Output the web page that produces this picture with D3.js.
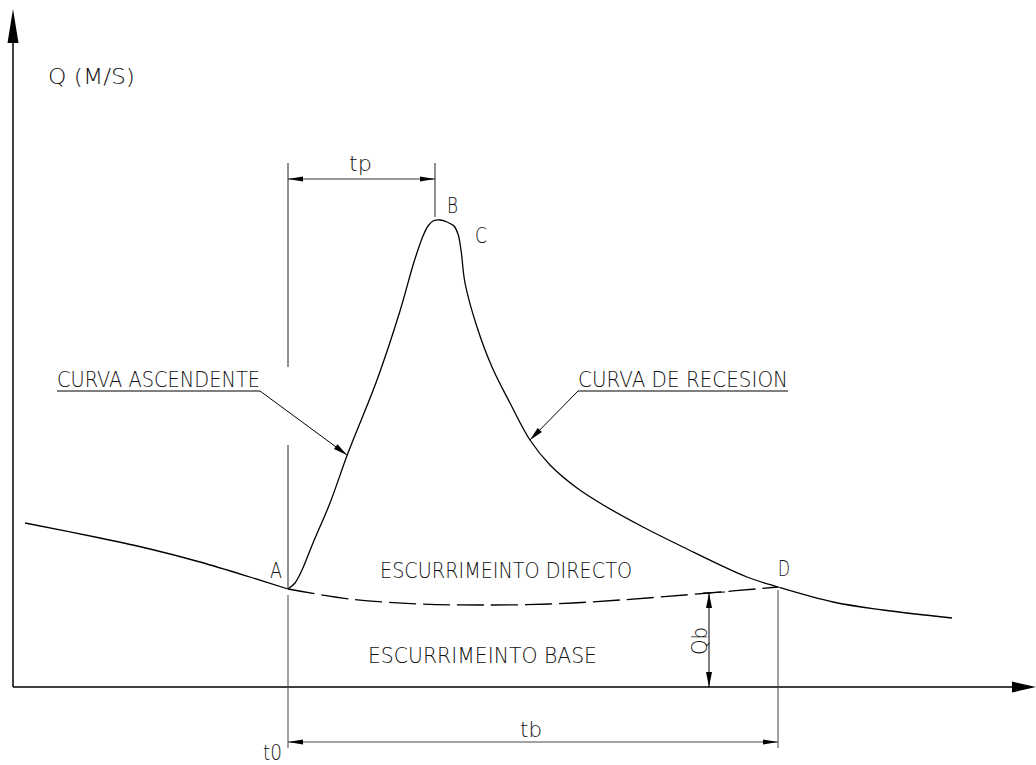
<!DOCTYPE html>
<html>
<head>
<meta charset="utf-8">
<script src="https://cdn.jsdelivr.net/npm/d3@7"></script>
<style>
  body { margin: 0; background: #fff; }
  svg { display: block; }
  text { font-family: "DejaVu Sans", sans-serif; font-weight: 200; fill: #111; font-size: 22px; }
</style>
</head>
<body>
<svg id="chart" width="1036" height="765"></svg>
<script>
// hydrograph: [t, q] in arbitrary units
var hydrograph = [
  [27.5, 9.8], [28.2, 10.4], [28.9, 11.7], [30.0, 14.4], [31.7, 18.4],
  [33.5, 23.4], [36.4, 30.7], [38.7, 37.6], [40.1, 42.5], [41.0, 45.1],
  [41.5, 46.1], [42.0, 46.6], [42.7, 46.7], [43.4, 46.5], [44.1, 46.1],
  [44.5, 45.3], [44.8, 43.7], [45.2, 40.4], [46.4, 36.0], [47.9, 32.0],
  [49.7, 28.4], [51.7, 24.7], [53.7, 22.2], [56.4, 19.9], [59.2, 18.1],
  [63.0, 16.0], [67.0, 14.0], [73.4, 11.0], [76.5, 10.0], [82.0, 8.5],
  [87.0, 7.7], [93.9, 6.9]
];
// flow before the storm
var priorFlow = [[1.2, 16.4], [8.7, 14.9], [13.7, 13.8], [18.7, 12.5], [23.7, 11.0], [27.5, 9.8]];
// separation line of base flow (dashed)
var baseFlow = [[27.5, 9.8], [33.7, 8.8], [40.7, 8.3], [46.7, 8.2], [53.7, 8.3], [60.7, 8.7], [69.6, 9.4], [76.5, 10.0]];

var pointA = [27.5, 9.8];
var pointD = [76.5, 10.0];
var peakT = 42.2;
var qbT = 69.6;
var qbTop = 9.4;

var svg = d3.select('#chart');
var x = d3.scaleLinear().domain([0, 100]).range([13, 1013]);
var y = d3.scaleLinear().domain([0, 60]).range([687, 87]);

var line = d3.line()
  .x(function(d) { return x(d[0]); })
  .y(function(d) { return y(d[1]); })
  .curve(d3.curveCatmullRom.alpha(0.5));

// filled arrow head, tip at (tx,ty), pointing along angle a
function arrow(tx, ty, a, len, hw, color) {
  var c = Math.cos(a), s = Math.sin(a);
  var bx = tx - c * len, by = ty - s * len;
  var pts = [[tx, ty], [bx - s * hw, by + c * hw], [bx + s * hw, by - c * hw]];
  svg.append('path')
    .attr('d', 'M' + pts.join('L') + 'Z')
    .attr('fill', color || '#000');
}

function seg(x1, y1, x2, y2, color, w) {
  svg.append('line')
    .attr('x1', x1).attr('y1', y1).attr('x2', x2).attr('y2', y2)
    .attr('stroke', color || '#000')
    .attr('stroke-width', w || 1);
}

function label(txt, tx, ty, len, extra) {
  var t = svg.append('text').attr('x', tx).attr('y', ty).text(txt);
  if (len) t.attr('textLength', len).attr('lengthAdjust', 'spacingAndGlyphs');
  if (extra) t.attr('transform', extra);
  return t;
}

// axes
var x0 = x(0), yb = y(0);
seg(x0, yb, x0, 40, '#000', 1.5);
arrow(x0, 9, -Math.PI / 2, 34, 5.5);
seg(x0, yb, 1014, yb, '#000', 1.5);
arrow(1036, yb, 0, 24, 5.5);

// curves
svg.append('path').datum(priorFlow).attr('d', line)
  .attr('fill', 'none').attr('stroke', '#000').attr('stroke-width', 1.3);
svg.append('path').datum(hydrograph).attr('d', line)
  .attr('fill', 'none').attr('stroke', '#000').attr('stroke-width', 1.3);
svg.append('path').datum(baseFlow).attr('d', line)
  .attr('fill', 'none').attr('stroke', '#000').attr('stroke-width', 1.3)
  .attr('stroke-dasharray', '27,7');

// extension lines at A and D
var xA = x(pointA[0]), xD = x(pointD[0]), xP = x(peakT);
seg(xA, 163, xA, 367, '#222');
seg(xA, 445, xA, y(pointA[1]) - 1, '#222');
seg(xA, y(pointA[1]) + 6, xA, 748, '#444');
seg(xD, y(pointD[1]) + 3, xD, 748, '#444');
seg(xP, 163, xP, 217, '#222');

// tp dimension
seg(xA, 179, xP, 179, '#333');
arrow(xA, 179, Math.PI, 15, 2.6);
arrow(xP, 179, 0, 15, 2.6);
label('tp', 349, 171, 23);

// tb dimension
seg(xA, 742, xD, 742, '#444');
arrow(xA, 742, Math.PI, 15, 2.6);
arrow(xD, 742, 0, 15, 2.6);
label('tb', 520, 737, 22);
label('t0', 263, 760, 19);

// Qb dimension
var xq = x(qbT);
seg(xq - 6, y(qbTop), xq + 16, y(qbTop) - 1, '#000');
seg(xq, y(qbTop), xq, yb, '#000');
arrow(xq, y(qbTop), -Math.PI / 2, 15, 3);
arrow(xq, yb, Math.PI / 2, 15, 3);
label('Qb', 0, 0, 28, 'translate(' + (xq - 2) + ',655) rotate(-90)');

// leader: curva ascendente
seg(57, 391, 260, 391, '#000');
seg(260, 391, 347, 455, '#000');
arrow(347, 455, Math.atan2(64, 87), 14, 3);
label('CURVA  ASCENDENTE', 57, 387, 203);

// leader: curva de recesion
seg(578, 391, 788, 391, '#000');
seg(578, 391, 530, 440, '#000');
arrow(530, 440, Math.atan2(49, -48), 14, 3);
label('CURVA  DE  RECESION', 578, 387, 210);

// point letters and zone names
label('Q  (M/S)', 48, 84, 87);
label('A', 270, 578, 12);
label('B', 447, 213, 11);
label('C', 475, 243, 12);
label('D', 778, 576, 12);
label('ESCURRIMEINTO  DIRECTO', 380, 578, 252);
label('ESCURRIMEINTO  BASE', 368, 663, 229);
</script>
</body>
</html>
